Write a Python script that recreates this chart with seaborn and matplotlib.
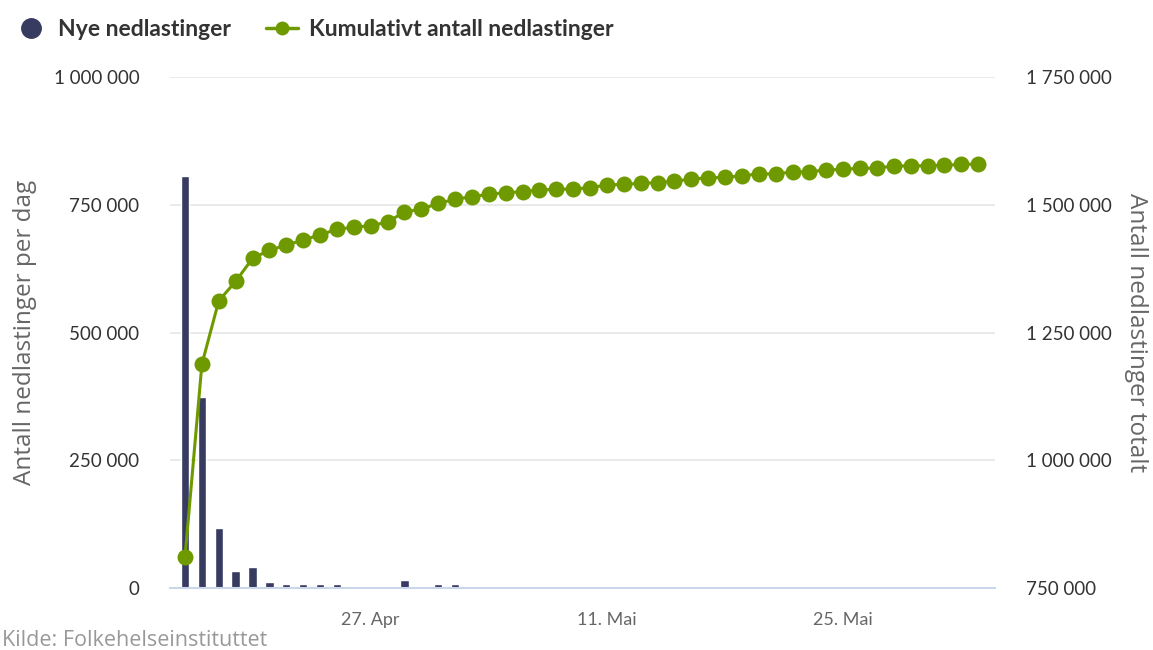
import pandas as pd
import seaborn as sns
import matplotlib.pyplot as plt
from matplotlib.lines import Line2D

# data (Smittestopp downloads, 16. Apr - 2. Jun)
start_date = '2020-04-16'
n_days = 48
new_downloads = [806000, 374000, 117000, 33000, 42000, 11000, 7500, 7500, 7500, 7500,
                 0, 0, 0, 15000, 0, 7500, 7500, 0, 4500, 0,
                 0, 0, 0, 0, 0, 0, 0, 0, 0, 0,
                 0, 0, 0, 0, 0, 0, 0, 0, 0, 0,
                 0, 0, 0, 0, 0, 0, 0, 0]
cumulative = [811000, 1188000, 1312000, 1350000, 1395000, 1411000, 1421000, 1431000, 1441000, 1452000,
              1456000, 1459000, 1466000, 1486000, 1491000, 1502800, 1510600, 1515800, 1520400, 1523600,
              1525500, 1528800, 1530200, 1530800, 1533400, 1538600, 1540000, 1542000, 1543100, 1546500,
              1549800, 1553000, 1553500, 1556800, 1560200, 1560500, 1564100, 1564500, 1568000, 1569400,
              1571300, 1571800, 1575800, 1576000, 1576300, 1577200, 1579100, 1579400]
tick_dates = ['2020-04-27', '2020-05-11', '2020-05-25']
tick_labels = ['27. Apr', '11. Mai', '25. Mai']
left_ticks = [0, 250000, 500000, 750000, 1000000]
right_ticks = [750000, 1000000, 1250000, 1500000, 1750000]

bar_color = '#383b60'
line_color = '#6e9a00'

dates = pd.date_range(start_date, periods=n_days, freq='D')
df = pd.DataFrame({'dato': dates, 'nye': new_downloads, 'total': cumulative})
df['dag'] = range(len(df))

sns.set_theme(style='white')
plt.rcParams['font.family'] = ['Lato', 'DejaVu Sans']

fig = plt.figure(figsize=(11.53, 6.5), dpi=100)
ax = fig.add_axes([170 / 1153, 1 - 588 / 650, (995 - 170) / 1153, (588 - 77) / 650])

sns.barplot(data=df, x='dag', y='nye', color=bar_color, width=0.5,
            saturation=1, ax=ax, zorder=2)
ax.set_xlim(-0.89, 48.0)
ax.set_ylim(0, 1000000)

ax2 = ax.twinx()
sns.lineplot(data=df, x='dag', y='total', color=line_color, lw=2.2,
             marker='o', markersize=11.5, markeredgewidth=0, ax=ax2, zorder=3)
ax2.set_ylim(750000, 1750000)
ax2.set_xlim(-0.89, 48.0)


def fmt(v):
    return f'{v:,}'.replace(',', ' ')


ax.set_yticks(left_ticks)
ax.set_yticklabels([fmt(v) for v in left_ticks], fontsize=13.5, color='#333333')
ax2.set_yticks(right_ticks)
ax2.set_yticklabels([fmt(v) for v in right_ticks], fontsize=13.5, color='#333333')

tick_pos = [int(df.loc[df.dato == pd.Timestamp(d), 'dag'].iloc[0]) for d in tick_dates]
ax.set_xticks(tick_pos)
ax.set_xticklabels(tick_labels, fontsize=13, color='#666666')

ax.grid(axis='y', color='#e6e6e6', lw=1.2, zorder=0)
ax.set_axisbelow(True)
for a in (ax, ax2):
    for s in a.spines.values():
        s.set_visible(False)
ax.spines['bottom'].set_visible(True)
ax.spines['bottom'].set_color('#ccd6eb')
ax.spines['bottom'].set_linewidth(1.5)
ax.tick_params(axis='x', length=10, width=1.2, color='#ccd6eb', pad=7)
ax.tick_params(axis='y', length=0, pad=22)
ax2.tick_params(axis='y', length=0, pad=22)

ax.set_xlabel('')
ax.set_ylabel('Antall nedlastinger per dag', fontsize=17.5, color='#666666',
              family=['Open Sans', 'DejaVu Sans'], labelpad=12)
ax2.set_ylabel('Antall nedlastinger totalt', fontsize=17.5, color='#666666',
               family=['Open Sans', 'DejaVu Sans'], rotation=270, labelpad=26)

handles = [
    Line2D([], [], ls='', marker='o', markersize=14, color=bar_color),
    Line2D([], [], color=line_color, lw=2.5, marker='o', markersize=9),
]
fig.legend(handles, ['Nye nedlastinger', 'Kumulativt antall nedlastinger'],
           loc='upper left', bbox_to_anchor=(-0.005, 1.003), ncol=2, frameon=False,
           prop={'family': ['Lato', 'DejaVu Sans'], 'weight': 'bold', 'size': 16.5},
           handlelength=1.4, columnspacing=1.5, handletextpad=0.5, labelcolor='#333333')

fig.text(0.002, 1 - 641 / 650, 'Kilde: Folkehelseinstituttet', fontsize=15.5,
         color='#999999', family=['Open Sans', 'DejaVu Sans'], va='center', ha='left')

fig.savefig('out.png', dpi=100)
